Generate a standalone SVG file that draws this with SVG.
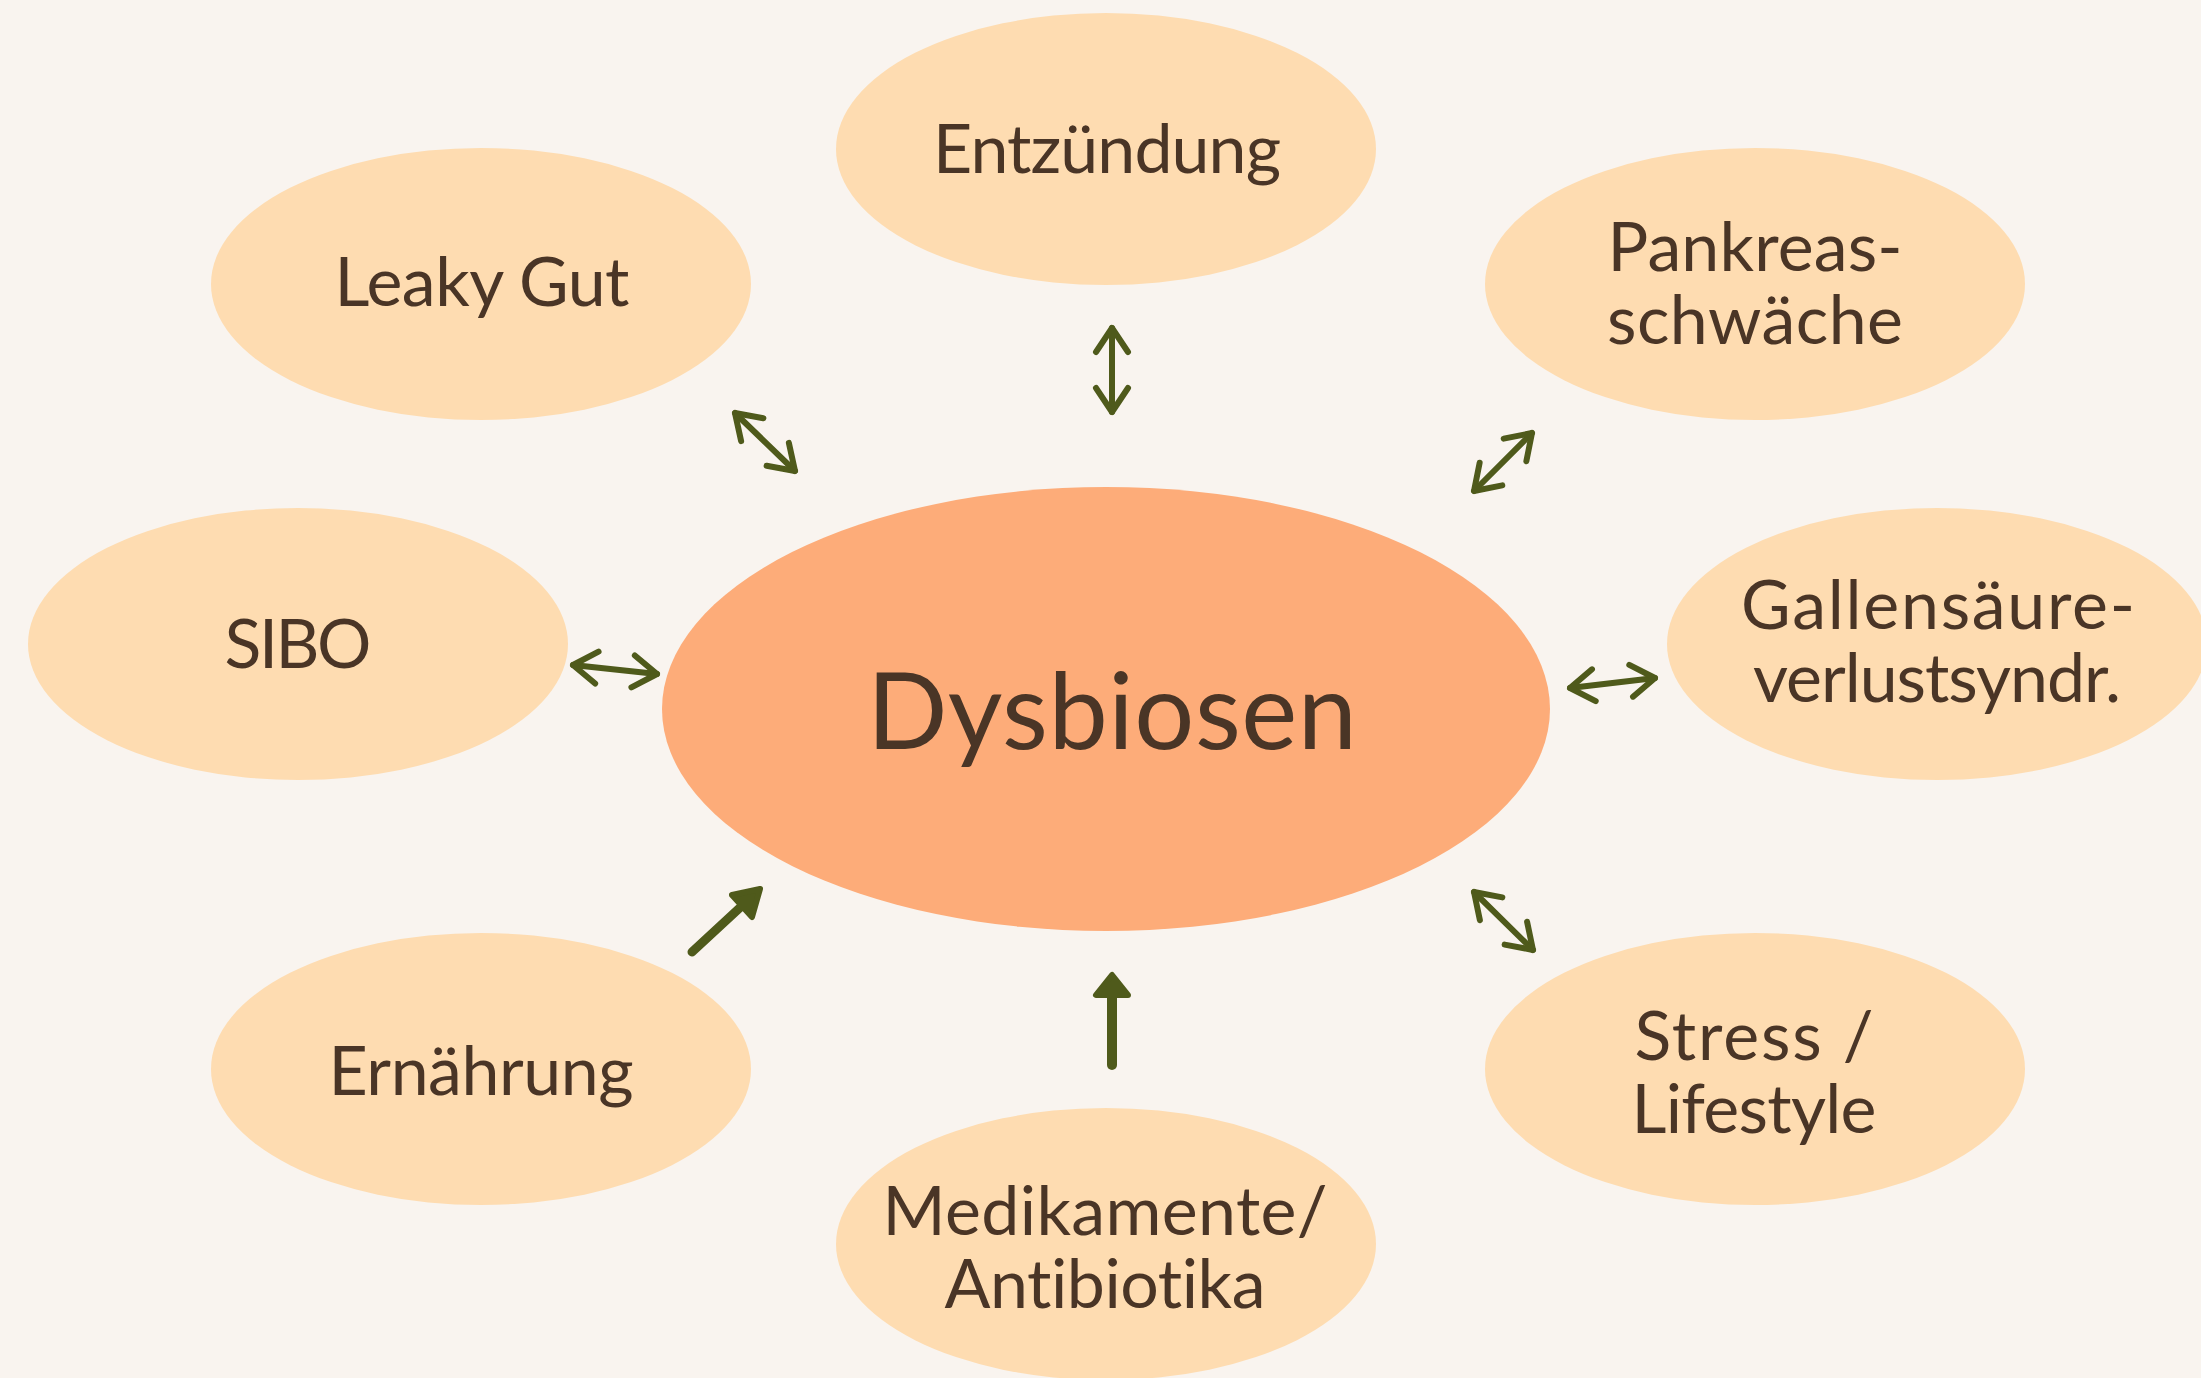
<svg xmlns="http://www.w3.org/2000/svg" width="2201" height="1378" viewBox="0 0 2201 1378">
  <style>
    .bg { fill: #F9F4EF; }
    .node { fill: #FEDCB1; }
    .center { fill: #FDAC79; }
    .lbl { font-family: Lato, "Open Sans", "Liberation Sans", sans-serif; font-size: 68px; fill: #4A3526; text-anchor: middle; font-variant-ligatures: none; }
    .big { font-size: 106px; }
    .conn { stroke: #4F5A1B; stroke-linecap: round; fill: none; }
    .thin { stroke-width: 6; }
    .head { fill: #4F5A1B; stroke: #4F5A1B; stroke-width: 6; stroke-linejoin: round; }
  </style>
  <defs>
    <marker id="chev" markerUnits="userSpaceOnUse" viewBox="-30 -22 40 44" refX="0" refY="0" markerWidth="40" markerHeight="44" orient="auto-start-reverse" overflow="visible">
      <path d="M-24,-16 L0,0 L-24,16" fill="none" stroke="#4F5A1B" stroke-width="6" stroke-linecap="round" stroke-linejoin="round"/>
    </marker>
  </defs>
  <rect class="bg" x="0" y="0" width="2201" height="1378"/>

  <g id="node-dysbiosen">
    <ellipse class="center" cx="1106" cy="709" rx="444" ry="222"/>
    <text class="lbl big" x="1112" y="749" textLength="490" lengthAdjust="spacing">Dysbiosen</text>
  </g>
  <g id="node-entzuendung">
    <ellipse class="node" cx="1106" cy="149" rx="270" ry="136"/>
    <text class="lbl" x="1107" y="173" textLength="348" lengthAdjust="spacing">Entzündung</text>
  </g>
  <g id="node-leaky-gut">
    <ellipse class="node" cx="481" cy="284" rx="270" ry="136"/>
    <text class="lbl" x="482" y="306" textLength="295" lengthAdjust="spacing">Leaky Gut</text>
  </g>
  <g id="node-pankreas">
    <ellipse class="node" cx="1755" cy="284" rx="270" ry="136"/>
    <text class="lbl" x="1755" y="271" textLength="295" lengthAdjust="spacing">Pankreas-</text>
    <text class="lbl" x="1755" y="344" textLength="296" lengthAdjust="spacing">schwäche</text>
  </g>
  <g id="node-sibo">
    <ellipse class="node" cx="298" cy="644" rx="270" ry="136"/>
    <text class="lbl" x="298" y="668" textLength="147" lengthAdjust="spacing">SIBO</text>
  </g>
  <g id="node-gallensaeure">
    <ellipse class="node" cx="1937" cy="644" rx="270" ry="136"/>
    <text class="lbl" x="1938" y="629" textLength="394" lengthAdjust="spacing">Gallensäure-</text>
    <text class="lbl" x="1937" y="702" textLength="368" lengthAdjust="spacing">verlustsyndr.</text>
  </g>
  <g id="node-ernaehrung">
    <ellipse class="node" cx="481" cy="1069" rx="270" ry="136"/>
    <text class="lbl" x="481" y="1095" textLength="305" lengthAdjust="spacing">Ernährung</text>
  </g>
  <g id="node-medikamente">
    <ellipse class="node" cx="1106" cy="1244" rx="270" ry="136"/>
    <text class="lbl" x="1105" y="1235" textLength="445" lengthAdjust="spacing">Medikamente/</text>
    <text class="lbl" x="1105" y="1308" textLength="321" lengthAdjust="spacing">Antibiotika</text>
  </g>
  <g id="node-stress">
    <ellipse class="node" cx="1755" cy="1069" rx="270" ry="136"/>
    <text class="lbl" x="1754" y="1060" textLength="239" lengthAdjust="spacing">Stress /</text>
    <text class="lbl" x="1754" y="1133" textLength="245" lengthAdjust="spacing">Lifestyle</text>
  </g>

  <g id="connectors">
    <line class="conn thin" x1="735" y1="413" x2="795" y2="471" marker-start="url(#chev)" marker-end="url(#chev)"/>
    <line class="conn thin" x1="1112" y1="328" x2="1112" y2="412" marker-start="url(#chev)" marker-end="url(#chev)"/>
    <line class="conn thin" x1="1532" y1="433" x2="1474" y2="491" marker-start="url(#chev)" marker-end="url(#chev)"/>
    <line class="conn thin" x1="573" y1="665" x2="657" y2="674" marker-start="url(#chev)" marker-end="url(#chev)"/>
    <line class="conn thin" x1="1570" y1="688" x2="1655" y2="678" marker-start="url(#chev)" marker-end="url(#chev)"/>
    <line class="conn thin" x1="1474" y1="892" x2="1533" y2="950" marker-start="url(#chev)" marker-end="url(#chev)"/>
    <line class="conn" stroke-width="9" x1="692" y1="952" x2="745" y2="903"/>
    <polygon class="head" points="760,889 732,895 752,917"/>
    <line class="conn" stroke-width="10" x1="1112" y1="1065" x2="1112" y2="995"/>
    <polygon class="head" points="1112,975 1096,995 1128,995"/>
  </g>
</svg>
